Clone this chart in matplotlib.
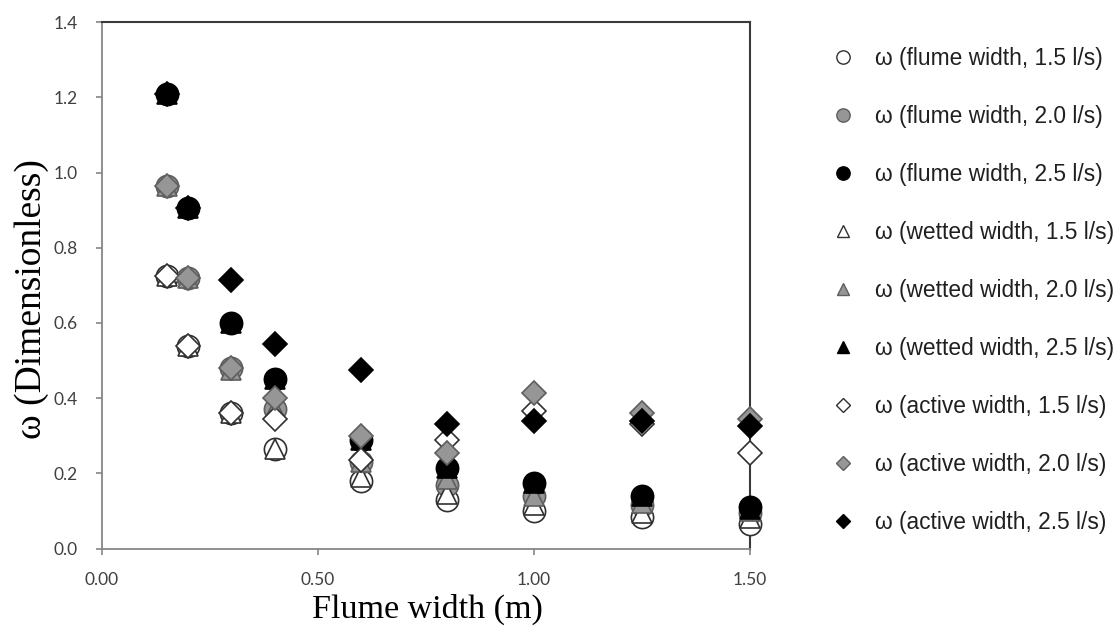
import numpy as np
import matplotlib.pyplot as plt
from matplotlib.lines import Line2D

# flume width (m) and omega values per series
widths = [0.15, 0.2, 0.3, 0.4, 0.6, 0.8, 1.0, 1.25, 1.5]

flume_15 = [0.725, 0.54, 0.36, 0.265, 0.18, 0.13, 0.10, 0.085, 0.065]
flume_20 = [0.965, 0.72, 0.48, 0.37, 0.23, 0.17, 0.14, 0.115, 0.095]
flume_25 = [1.21, 0.905, 0.60, 0.45, 0.29, 0.215, 0.175, 0.14, 0.11]

wetted_15 = [0.725, 0.54, 0.36, 0.265, 0.19, 0.145, 0.115, 0.095, 0.08]
wetted_20 = [0.965, 0.72, 0.475, 0.37, 0.23, 0.185, 0.14, 0.12, 0.10]
wetted_25 = [1.21, 0.905, 0.60, 0.45, 0.29, 0.215, 0.175, 0.14, 0.105]

active_15 = [0.725, 0.54, 0.36, 0.345, 0.235, 0.29, 0.365, 0.33, 0.255]
active_20 = [0.965, 0.72, 0.48, 0.40, 0.30, 0.255, 0.415, 0.36, 0.345]
active_25 = [1.21, 0.905, 0.715, 0.545, 0.475, 0.33, 0.34, 0.34, 0.325]

labels = ['ω (flume width, 1.5 l/s)', 'ω (flume width, 2.0 l/s)', 'ω (flume width, 2.5 l/s)',
          'ω (wetted width, 1.5 l/s)', 'ω (wetted width, 2.0 l/s)', 'ω (wetted width, 2.5 l/s)',
          'ω (active width, 1.5 l/s)', 'ω (active width, 2.0 l/s)', 'ω (active width, 2.5 l/s)']
series = [flume_15, flume_20, flume_25, wetted_15, wetted_20, wetted_25,
          active_15, active_20, active_25]

markers = ['o', 'o', 'o', '^', '^', '^', 'D', 'D', 'D']
faces = ['white', '#969696', 'black'] * 3
edges = ['#303030', '#5e5e5e', 'black'] * 3
msize = [16, 16, 16, 15, 15, 15, 12, 12, 12]

fig = plt.figure(figsize=(11.15, 6.31), dpi=100)
ax = fig.add_axes([0.0912, 0.1307, 0.5814, 0.834])

handles = []
for i, vals in enumerate(series):
    ax.plot(widths, vals, linestyle='none', marker=markers[i], markersize=msize[i],
            markerfacecolor=faces[i], markeredgecolor=edges[i], markeredgewidth=1.2,
            zorder=3 + i, clip_on=False)
    handles.append(Line2D([], [], linestyle='none', marker=markers[i], markersize=msize[i] * 0.6,
                          markerfacecolor=faces[i], markeredgecolor=edges[i], markeredgewidth=1.0))

ax.set_xlim(0, 1.5)
ax.set_ylim(0, 1.4)
ax.set_xticks([0, 0.5, 1.0, 1.5])
ax.set_xticklabels(['0.00', '0.50', '1.00', '1.50'])
ax.set_yticks(np.arange(0, 1.41, 0.2))
ax.set_yticklabels([f'{v:.1f}' for v in np.arange(0, 1.41, 0.2)])

for side in ['left', 'bottom']:
    ax.spines[side].set_color('#868686')
    ax.spines[side].set_linewidth(1.3)
for side in ['top', 'right']:
    ax.spines[side].set_color('#3a3a3a')
    ax.spines[side].set_linewidth(1.5)

ax.tick_params(axis='both', direction='out', length=4, width=1.2, color='#868686',
               labelcolor='#404040', labelsize=12.5)
ax.tick_params(axis='y', pad=13)
ax.tick_params(axis='x', pad=13)
for lab in ax.get_xticklabels() + ax.get_yticklabels():
    lab.set_family('Lato')

fig.text(0.028, 0.526, 'ω (Dimensionless)', rotation=90, ha='center', va='center',
         family='Liberation Serif', fontsize=27)
fig.text(0.383, 0.034, 'Flume width (m)', ha='center', va='center',
         family='Liberation Serif', fontsize=24.5)

fig.legend(handles, labels, loc='upper left', bbox_to_anchor=(0.7456, 0.9258), frameon=False,
           borderpad=0, borderaxespad=0, handlelength=1.0, handletextpad=0.9, labelspacing=1.54,
           prop={'family': 'Liberation Sans', 'size': 16.4}, labelcolor='#202020')

fig.savefig('out.png', dpi=100)
